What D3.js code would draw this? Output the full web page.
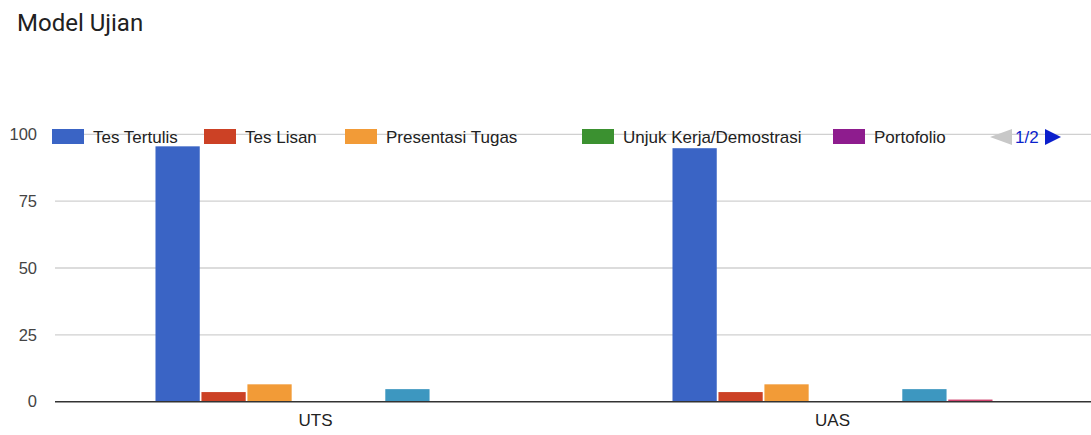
<!DOCTYPE html>
<html>
<head>
<meta charset="utf-8">
<script src="https://cdn.jsdelivr.net/npm/d3@7"></script>
<style>
  html, body { margin: 0; padding: 0; background: #fff; }
  svg { display: block; }
</style>
</head>
<body>
<svg id="chart" width="1091" height="435"></svg>
<script>
const title = "Model Ujian";
const categories = ["UTS", "UAS"];
const seriesNames = ["Tes Tertulis", "Tes Lisan", "Presentasi Tugas", "Unjuk Kerja/Demostrasi", "Portofolio", "Proyek", "Lainnya"];
const tesTertulis = [95.5, 94.8];
const tesLisan = [3.6, 3.6];
const presentasiTugas = [6.5, 6.5];
const unjukKerja = [0, 0];
const portofolio = [0, 0];
const proyek = [4.7, 4.7];
const lainnya = [0, 0.8];
const yTicks = [0, 25, 50, 75, 100];
const legendPageLabel = "1/2";
const legendPageCount = 5;

const seriesValues = [tesTertulis, tesLisan, presentasiTugas, unjukKerja, portofolio, proyek, lainnya];
const colors = ["#3a64c5", "#cc4125", "#f29b37", "#3b9130", "#8e1c8e", "#3d97c0", "#d0436e"];

const svg = d3.select("#chart");
const plotLeft = 57, plotRight = 1091, plotTop = 134.3, plotBottom = 401.7;

const x0 = d3.scaleBand().domain(categories).range([plotLeft, plotRight]).paddingInner(0.381).paddingOuter(0.1905);
const x1 = d3.scaleBand().domain(seriesNames).range([0, x0.bandwidth()]).paddingInner(0.037).paddingOuter(0);
const y = d3.scaleLinear().domain([0, 100]).range([plotBottom, plotTop]);

// title
svg.append("text").attr("x", 17).attr("y", 31)
  .attr("font-family", "Roboto, Arial, sans-serif").attr("font-size", 24)
  .attr("fill", "#212121").text(title);

// gridlines
svg.append("g").selectAll("line").data(yTicks.filter(d => d !== 0)).join("line")
  .attr("x1", 55).attr("x2", plotRight).attr("y1", d => y(d)).attr("y2", d => y(d))
  .attr("stroke", "#d0d0d0").attr("stroke-width", 1.3);

// y axis labels
const yAxis = d3.axisLeft(y).tickValues(yTicks).tickSize(0).tickPadding(0);
const yg = svg.append("g").attr("transform", "translate(37,0)").call(yAxis);
yg.select(".domain").remove();
yg.selectAll("text").attr("font-family", "'Liberation Sans', Arial, sans-serif")
  .attr("font-size", 16.5).attr("fill", "#444");

// bars
const data = categories.map((c, i) => ({ cat: c, vals: seriesNames.map((s, j) => ({ s, v: seriesValues[j][i], j })) }));
svg.append("g").selectAll("g").data(data).join("g")
  .attr("transform", d => `translate(${x0(d.cat)},0)`)
  .selectAll("rect").data(d => d.vals.filter(v => v.v > 0)).join("rect")
  .attr("x", d => x1(d.s)).attr("width", x1.bandwidth())
  .attr("y", d => y(d.v)).attr("height", d => y(0) - y(d.v))
  .attr("fill", d => colors[d.j]);

// baseline
svg.append("line").attr("x1", 55).attr("x2", plotRight).attr("y1", y(0)).attr("y2", y(0))
  .attr("stroke", "#333").attr("stroke-width", 1.5);

// x axis labels
const xAxis = d3.axisBottom(x0).tickSize(0).tickPadding(0);
const xg = svg.append("g").attr("transform", "translate(0,414)").call(xAxis);
xg.select(".domain").remove();
xg.selectAll("text").attr("font-family", "'Liberation Sans', Arial, sans-serif")
  .attr("font-size", 17).attr("fill", "#222");

// legend
const legendX = [52, 204, 345, 582, 833];
const lg = svg.append("g");
seriesNames.slice(0, legendPageCount).forEach((s, i) => {
  lg.append("rect").attr("x", legendX[i]).attr("y", 129).attr("width", 32).attr("height", 15)
    .attr("fill", colors[i]);
  lg.append("text").attr("x", legendX[i] + 41).attr("y", 143)
    .attr("font-family", "'Liberation Sans', Arial, sans-serif").attr("font-size", 17)
    .attr("fill", "#222").text(s);
});
// pagination
lg.append("path").attr("d", "M990,137 L1012,129 L1012,145 Z").attr("fill", "#c8c8c8");
lg.append("text").attr("x", 1015).attr("y", 143)
  .attr("font-family", "'Liberation Sans', Arial, sans-serif").attr("font-size", 17)
  .attr("fill", "#0b1fcc").text(legendPageLabel);
lg.append("path").attr("d", "M1045,129 L1061,137 L1045,145 Z").attr("fill", "#0b1fcc");
</script>
</body>
</html>
